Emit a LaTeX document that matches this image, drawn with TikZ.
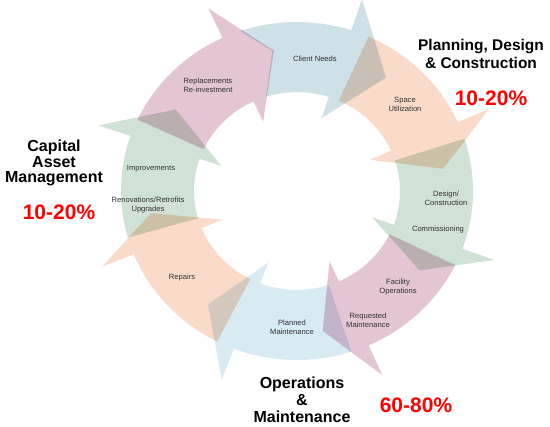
\documentclass[tikz,border=0pt]{standalone}
\usepackage{fontspec}
\setmainfont{Liberation Sans}
\definecolor{cblue}{RGB}{206,225,231}
\definecolor{cblueb}{RGB}{216,234,242}
\definecolor{cpeach}{RGB}{250,218,200}
\definecolor{cgreen}{RGB}{208,226,213}
\definecolor{cpink}{RGB}{228,197,211}
\definecolor{labelgray}{RGB}{50,50,50}
\definecolor{pctred}{RGB}{255,0,0}
\newcommand\rin{103}
\newcommand\rout{176}
\newcommand\rbi{80}
\newcommand\rbo{210}
\newcommand\rtip{148}
\newcommand\cyclearrow[5][]{% color, tail, base, tip
  \fill[fill=#2, blend mode=multiply, #1] (#3:\rin) -- (#3:\rout)
    arc[start angle=#3, end angle=#4, radius=\rout]
    -- (#4:\rbo) -- (#5:\rtip) -- (#4:\rbi) -- (#4:\rin)
    arc[start angle=#4, end angle=#3, radius=\rin] -- cycle;}
\begin{document}
\begin{tikzpicture}[x=1pt,y=1pt,
  lbl/.style={font=\fontsize{7.6}{9.2}\selectfont, text=labelgray, align=center, inner sep=0},
  ttl/.style={font=\fontsize{15.5}{17}\selectfont\bfseries, align=center, inner sep=0},
  pct/.style={font=\fontsize{21}{24}\selectfont\bfseries, text=pctred, inner sep=0}]
\useasboundingbox (0,0) rectangle (550,-427);
\fill[white] (0,0) rectangle (550,-427);
\begin{scope}[shift={(297,-191)}, yscale=0.96]
  \cyclearrow{cpink}{155}{115}{99}
  % top blue arrow: its tail follows the pink head
  \fill[fill=cblue, blend mode=multiply] (107.5:\rin) -- (99.6:\rtip) -- (108.8:\rout)
    arc[start angle=108.8, end angle=72, radius=\rout]
    -- (72:\rbo) -- (53:\rtip) -- (72:\rbi) -- (72:\rin)
    arc[start angle=72, end angle=107.5, radius=\rin] -- cycle;
  \cyclearrow{cpeach}{66}{24}{9}
  \cyclearrow{cgreen}{18}{-20}{-34}
  \cyclearrow{cpink}{-26}{-66}{-80}
  \cyclearrow{cblueb}{-72}{-111}{-127}
  \cyclearrow{cpeach}{-117}{-158}{-171}
  \cyclearrow{cgreen}{196}{161}{145}
\end{scope}
% small labels
\node[lbl] (cn) at (315,-59) {Client Needs};
\node[lbl] (rr) at (208,-85) {Replacements\\Re-investment};
\node[lbl] (su) at (405,-104) {Space\\Utilization};
\node[lbl] (dc) at (446,-198) {Design/\\Construction};
\node[lbl] (cm) at (438,-230) {Commissioning};
\node[lbl] (fo) at (398,-287) {Facility\\Operations};
\node[lbl] (rm) at (368,-320) {Requested\\Maintenance};
\node[lbl] (pm) at (292,-327) {Planned\\Maintenance};
\node[lbl] (rp) at (182,-278) {Repairs};
\node[lbl] (im) at (151,-169) {Improvements};
\node[lbl] (ru) at (148,-205) {Renovations/Retrofits\\Upgrades};
% titles
\node[ttl, font=\fontsize{15.5}{18.5}\selectfont\bfseries] (pdc) at (481,-54) {Planning, Design\\\& Construction};
\node[pct] (p1) at (491,-98) {10-20\%};
\node[ttl, font=\fontsize{16}{15.5}\selectfont\bfseries] (cam) at (54,-163) {Capital\\Asset\\Management};
\node[pct] (p2) at (59,-212) {10-20\%};
\node[ttl, font=\fontsize{16}{17}\selectfont\bfseries] (om) at (302,-400) {Operations\\\&\\Maintenance};
\node[pct] (p3) at (416,-405) {60-80\%};
\end{tikzpicture}
\end{document}
